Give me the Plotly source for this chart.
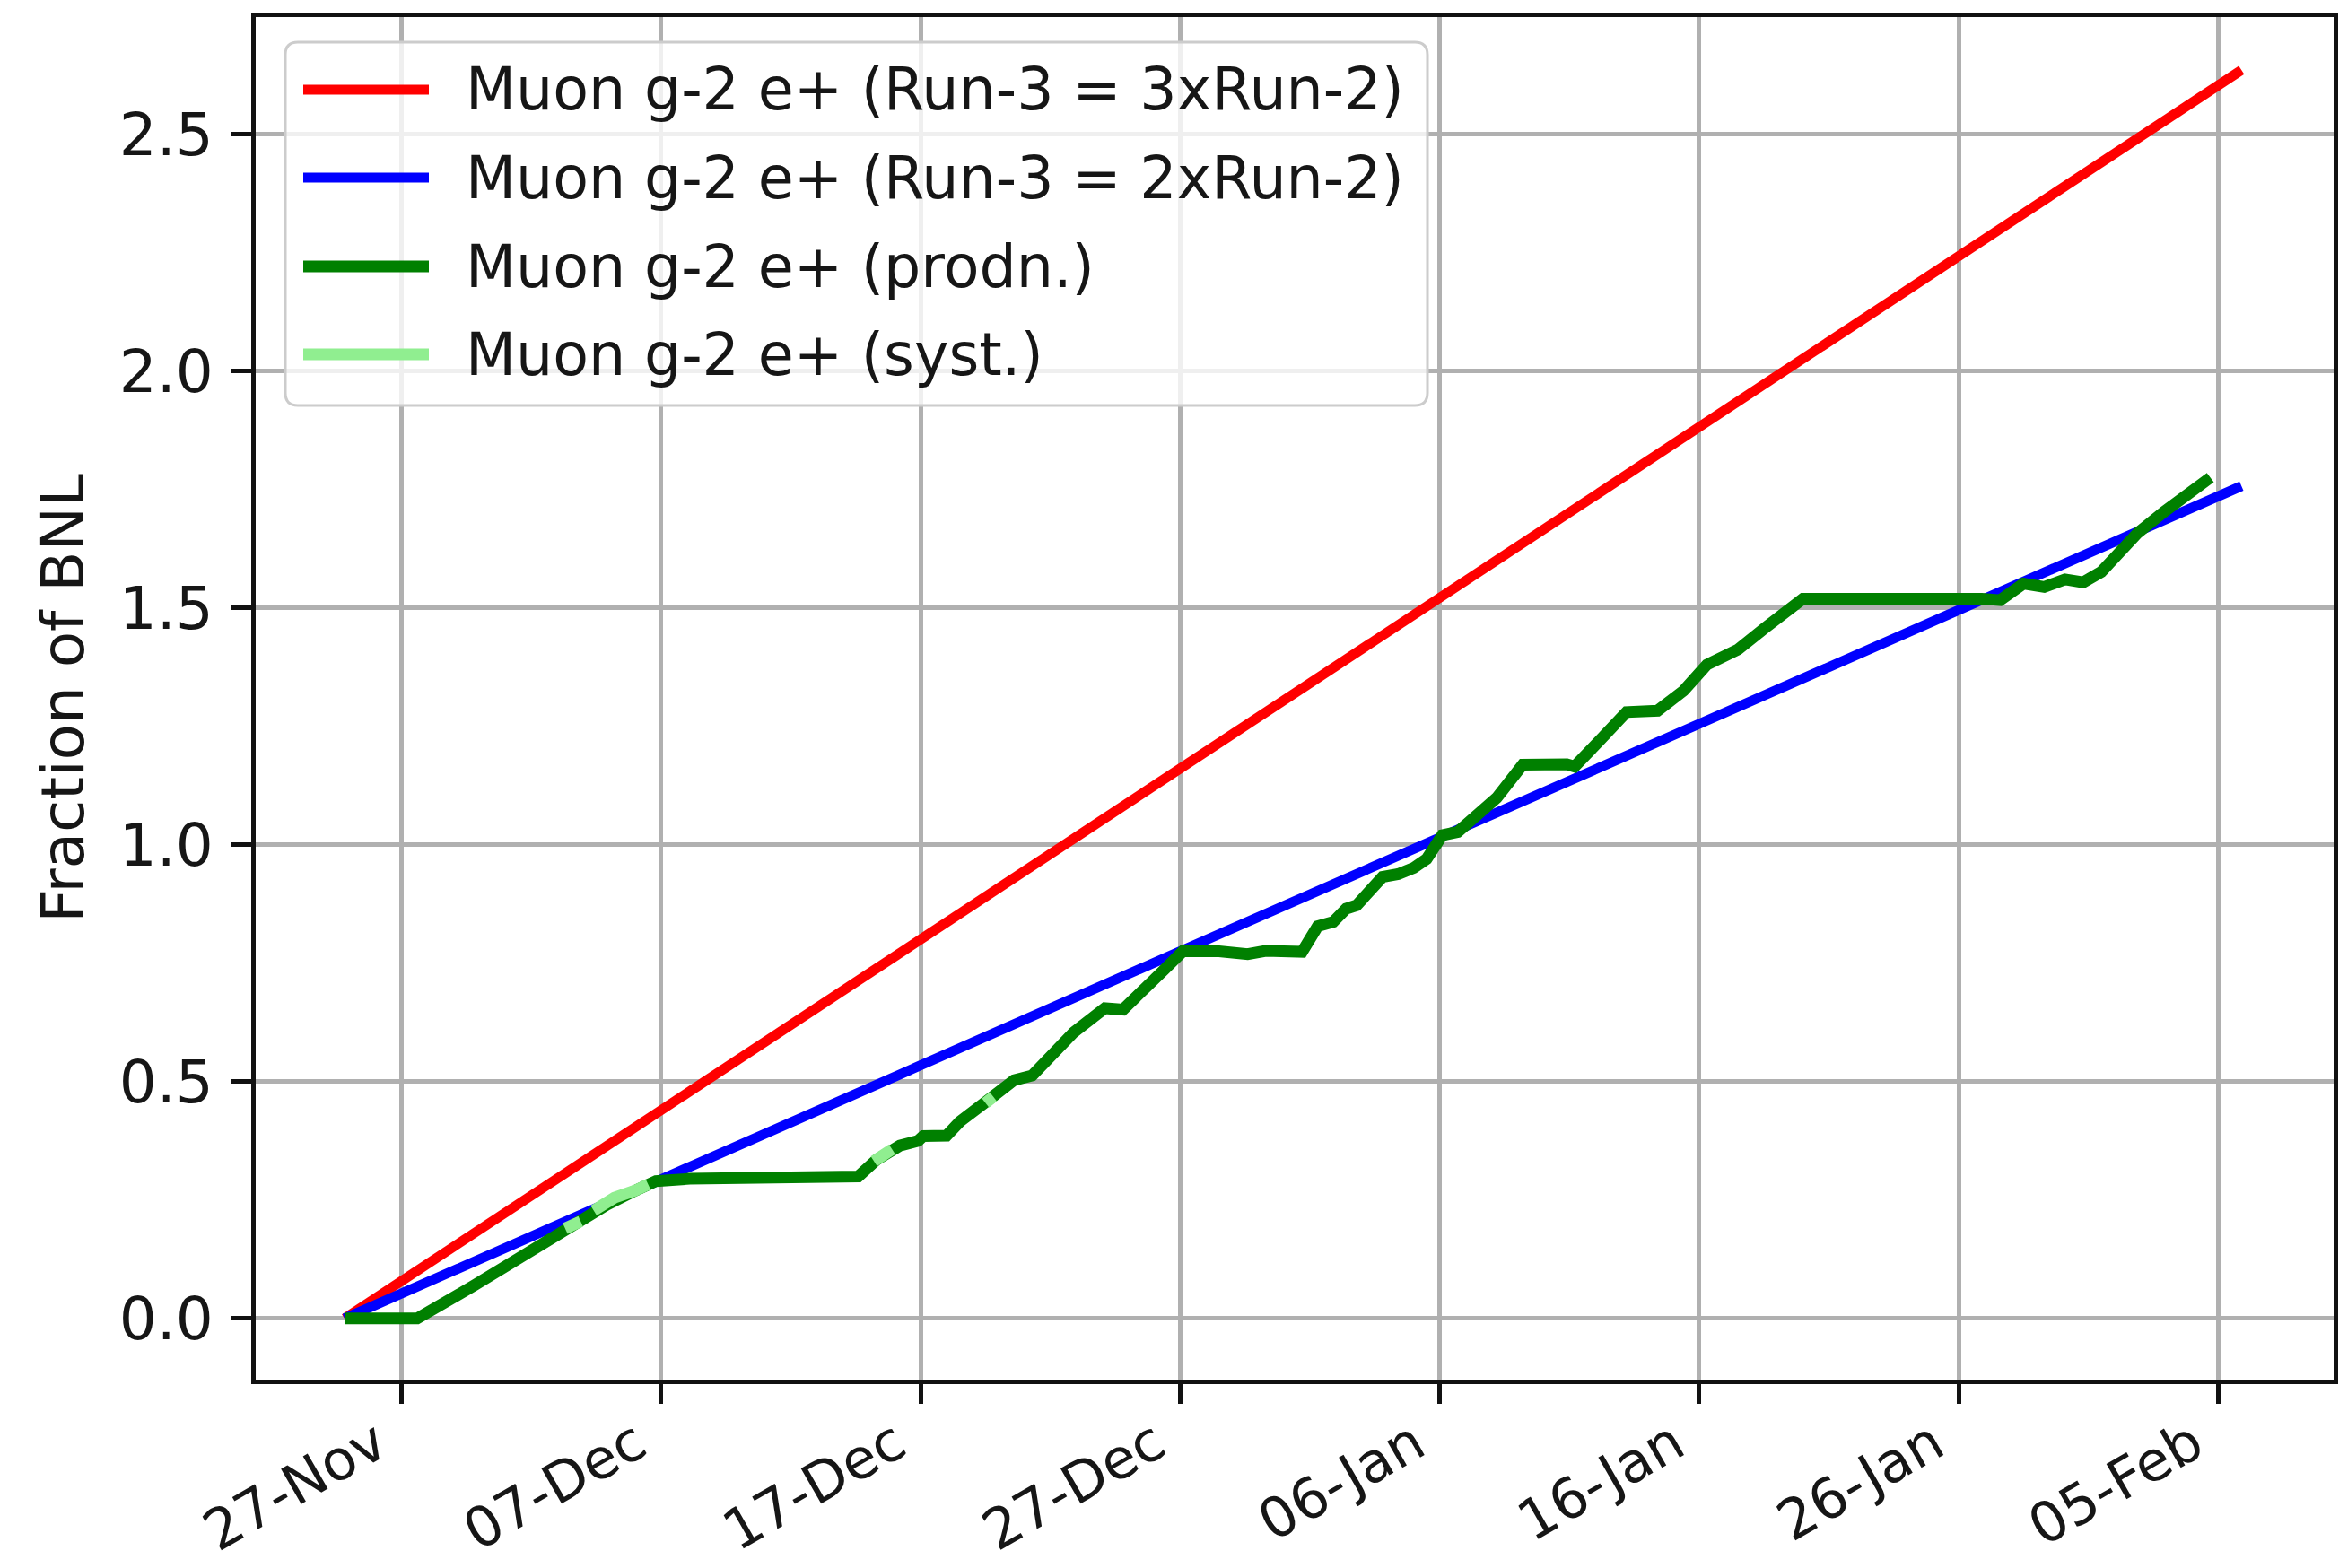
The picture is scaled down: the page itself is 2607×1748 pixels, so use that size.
import plotly.graph_objects as go
from datetime import datetime, timedelta

# ---------------- data (days measured from 27-Nov-2019 00:00) ----------------
BASE = datetime(2019, 11, 27)

red_days = [-2.2, 10.0, 30.0, 50.0, 70.9]
red_vals = [0.0, 0.44, 1.16, 1.88, 2.635]

blue_days = [-2.2, 10.0, 30.0, 50.0, 70.9]
blue_vals = [0.0, 0.295, 0.775, 1.255, 1.757]

prodn_days = [-2.2, 0.6, 2.8, 4.6, 6.3, 7.9, 9.0, 9.8, 11.1, 17.6, 18.3, 19.2, 19.9,
              20.1, 21.0, 21.5, 22.7, 23.6, 24.3, 25.9, 27.1, 27.8, 29.4, 30.1, 31.5,
              32.6, 33.3, 34.7, 35.3, 35.9, 36.4, 36.8, 37.8, 38.4, 39.0, 39.5, 40.1,
              40.7, 42.2, 43.2, 44.9, 45.2, 46.2, 47.2, 48.4, 49.4, 50.3, 51.5, 52.5,
              53.5, 54.0, 60.9, 61.6, 62.5, 63.3, 64.1, 64.8, 65.5, 66.3, 66.9, 67.9,
              68.9, 69.7]
prodn_vals = [0.0, 0.0, 0.07, 0.13, 0.19, 0.24, 0.27, 0.29, 0.295, 0.30, 0.335, 0.365, 0.375,
              0.385, 0.386, 0.415, 0.465, 0.503, 0.513, 0.604, 0.655, 0.652, 0.737, 0.775, 0.775,
              0.769, 0.776, 0.774, 0.828, 0.837, 0.865, 0.872, 0.932, 0.938, 0.951, 0.970, 1.020,
              1.027, 1.099, 1.169, 1.170, 1.165, 1.222, 1.280, 1.283, 1.325, 1.380, 1.412, 1.456,
              1.494, 1.519, 1.519, 1.516, 1.551, 1.544, 1.560, 1.554, 1.576, 1.620, 1.658, 1.702,
              1.740, 1.775]

syst_days = [6.3, 6.9, None, 7.4, 8.2, 9.0, 9.5, None, 18.2, 18.9, None, 22.5, 22.8]
syst_vals = [0.19, 0.205, None, 0.228, 0.255, 0.27, 0.283, None, 0.332, 0.357, None, 0.455, 0.468]

tick_dates = ["2019-11-27", "2019-12-07", "2019-12-17", "2019-12-27",
              "2020-01-06", "2020-01-16", "2020-01-26", "2020-02-05"]
tick_labels = ["27-Nov", "07-Dec", "17-Dec", "27-Dec", "06-Jan", "16-Jan", "26-Jan", "05-Feb"]

series_names = ["Muon g-2 e+ (Run-3 = 3xRun-2)", "Muon g-2 e+ (Run-3 = 2xRun-2)",
                "Muon g-2 e+ (prodn.)", "Muon g-2 e+ (syst.)"]
series_colors = ["#ff0000", "#0000ff", "#008000", "#90ee90"]
series_widths = [11, 11, 13, 13]


def to_dates(days):
    return [None if d is None else BASE + timedelta(days=d) for d in days]


# ---------------- figure ----------------
W, H = 2607, 1748
L, R, T, B = 285, 2601, 19, 1538  # plot-area pixel box
FONT = "DejaVu Sans"
TXT = "#161616"

fig = go.Figure()
all_days = [red_days, blue_days, prodn_days, syst_days]
all_vals = [red_vals, blue_vals, prodn_vals, syst_vals]
for i in range(4):
    fig.add_trace(go.Scatter(x=to_dates(all_days[i]), y=all_vals[i], mode="lines",
                             name=series_names[i], connectgaps=False,
                             line=dict(color=series_colors[i], width=series_widths[i])))


def px(x):
    return (x - L) / (R - L)


def py(y):
    return (B - y) / (B - T)


# manual legend (matplotlib style)
lx0, lx1, ly0, ly1, rad = 318, 1591, 47, 452, 14
rx = rad / (R - L)
ry = rad / (B - T)
X0, X1, Y0, Y1 = px(lx0), px(lx1), py(ly1), py(ly0)
path = (f"M {X0+rx},{Y0} L {X1-rx},{Y0} Q {X1},{Y0} {X1},{Y0+ry} "
        f"L {X1},{Y1-ry} Q {X1},{Y1} {X1-rx},{Y1} L {X0+rx},{Y1} Q {X0},{Y1} {X0},{Y1-ry} "
        f"L {X0},{Y0+ry} Q {X0},{Y0} {X0+rx},{Y0} Z")
shapes = [dict(type="path", path=path, xref="paper", yref="paper", layer="above",
               fillcolor="rgba(255,255,255,0.8)", line=dict(color="#cccccc", width=3))]
annotations = []
row_y = [100, 198, 297, 395]
for i, name in enumerate(series_names):
    shapes.append(dict(type="line", xref="paper", yref="paper", layer="above",
                       x0=px(338), x1=px(478), y0=py(row_y[i]), y1=py(row_y[i]),
                       line=dict(color=series_colors[i], width=series_widths[i])))
    annotations.append(dict(text=name, xref="paper", yref="paper", x=px(517), y=py(row_y[i]),
                            xanchor="left", yanchor="middle", showarrow=False,
                            font=dict(family=FONT, size=65, color=TXT)))

axis_style = dict(showgrid=True, gridcolor="#b0b0b0", gridwidth=5, showline=True,
                  linecolor="#111111", linewidth=5, mirror=True, ticks="outside",
                  ticklen=22, tickwidth=5, tickcolor="#111111", zeroline=False,
                  automargin=False)

fig.update_layout(
    width=W, height=H,
    margin=dict(l=L, r=W - R, t=T, b=H - B),
    paper_bgcolor="white", plot_bgcolor="white",
    showlegend=False,
    font=dict(family=FONT, size=66, color=TXT),
    shapes=shapes, annotations=annotations,
    xaxis=dict(type="date", range=["2019-11-21 09:00", "2020-02-09 10:50"],
               tickmode="array", tickvals=tick_dates,
               ticktext=[t + "\u00a0\u2009" for t in tick_labels],
               tickfont=dict(family=FONT, size=62, color=TXT),
               tickangle=-30, ticklabelstandoff=-32, **axis_style),
    yaxis=dict(range=[-0.129, 2.747], tick0=0, dtick=0.5, tickformat=".1f",
               ticklabelstandoff=7,
               tickfont=dict(family=FONT, size=66, color=TXT),
               title=dict(text="Fraction of BNL", standoff=19,
                          font=dict(family=FONT, size=66, color=TXT)),
               **axis_style),
)

fig.write_html("out.html", config={"displayModeBar": False},
               post_script="document.body.style.margin='0';document.body.style.overflow='hidden';")
